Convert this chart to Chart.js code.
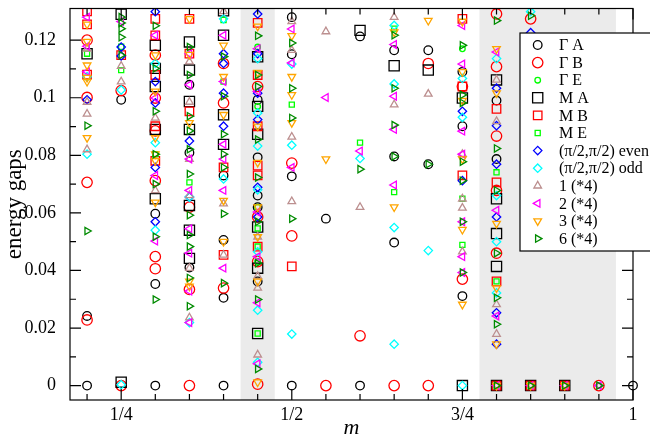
<!DOCTYPE html>
<html>
<head>
<meta charset="utf-8">
<script src="https://cdn.jsdelivr.net/npm/chart.js@4/dist/chart.umd.min.js"></script>
<style>
  html, body { margin: 0; padding: 0; background: #fff; }
</style>
</head>
<body>
<canvas id="graph" width="650" height="440"></canvas>
<script>
// columns of the plot (m)
const mValues = [0.2, 0.25, 0.3, 0.35, 0.4, 0.45, 0.5, 0.55, 0.6, 0.65, 0.7, 0.75, 0.8, 0.85, 0.9, 0.95, 1.0];

// energy gaps, one list per column of mValues
const gammaA = [[0, 0.0242], [0.0993], [0.0597, 0.0353, 0], [0.1045, 0.0809, 0.041], [0.073, 0.0506, 0.0305, 0],
  [0.0993, 0.0793, 0.066, 0.062, 0.0362], [0.128, 0.1151, 0.0727, 0], [0.058], [0.1213, 0], [0.1165, 0.0796, 0.0497],
  [0.1165, 0.0769], [0.109, 0.0901, 0.0311], [0.099, 0.0787], [], [], [], [0]];
const gammaB = [[0.12, 0.1001, 0.0706, 0.0228], [0.1025, 0], [0.1148, 0.0999, 0.0885, 0.0712, 0.0448, 0.0406], [0.062, 0.0334, 0],
  [0.1119, 0.0982, 0.0339], [0.1039, 0.0586, 0.0431, 0.0005], [0.0773, 0.052], [0], [0.0173], [0], [0.1119, 0],
  [0.1039, 0.037], [0.1291, 0.1108, 0.0867, 0.0678, 0.046], [0.1274], [], [0], []];
const gammaE = [[], [], [], [], [], [0.1176, 0.097, 0.062, 0.0431], [], [], [], [], [], [0.117], [], [], [], [0], []];
const mA = [[0.1153], [0.129, 0.0012], [0.1182, 0.1102, 0.1039, 0.089, 0.0649], [0.1194, 0.1096, 0.0987, 0.089, 0.0626, 0.054, 0.0442],
  [0.1302, 0.1217, 0.0941, 0.0838], [0.1142, 0.097, 0.0873, 0.0551, 0.0408, 0.0181], [], [], [0.1234], [0.1111], [0.1096],
  [0.0999, 0], [0.1062, 0.0649, 0.0528, 0.0414, 0], [0], [0], [], []];
const mB = [[0.130, 0.1255, 0.108], [0.1148], [0.1274, 0.1217, 0.1079, 0.0901, 0.0781], [0.1274, 0.1153, 0.0953], [0.0758, 0.0454],
  [0.126, 0.1079, 0.0901, 0.0764, 0.073, 0.0483], [0.0414], [], [], [], [], [0.1274, 0.1039, 0.073], [0.0961, 0.0706, 0.0362, 0],
  [0], [0], [], []];
const mE = [[0.1153], [0.1177, 0.1096], [0.0804], [0.0706], [0.127, 0.1056], [0.0546, 0.0483, 0.0181], [0.0976], [], [0.0844],
  [0.124, 0.0672], [], [0.0649, 0.0489], [0.0741, 0.0362, 0], [0], [0], [], []];
const evenPi2 = [[0.0993], [0.1176, 0.1145], [0.1299, 0.1056, 0.0982, 0.0758, 0.0569], [0.085, 0.0655], [0.1153, 0.1119, 0.1016, 0.0901],
  [0.1291, 0.1153, 0.1016, 0.0924, 0.0689, 0.0586], [], [], [], [], [], [0.0953, 0.0712],
  [0.1033, 0.0903, 0.0769, 0.0586, 0.0253, 0.0144], [0.1226], [], [], []];
const oddPi2 = [[0.1073, 0.0804], [0.1027, 0.0003], [0.1119, 0.0844, 0.054], [0.0655, 0.0219], [0.1274, 0.0718],
  [0.1136, 0.0947, 0.0832, 0.068, 0.0465, 0.0262, 0.0081], [0.1117, 0.0835, 0.0179], [], [0.0789], [0.1251, 0.1048, 0.0549, 0.0144],
  [0.0469], [0.1067, 0.0932, 0], [0.1136, 0.066, 0.05, 0.0322], [0.1299], [], [], []];
const k1 = [[0.117, 0.0985, 0.0944, 0.082], [0.111, 0.1056], [0.093, 0.0678], [0.1125, 0.0985, 0.0787, 0.0661, 0.0408, 0.0236],
  [0.13, 0.0632, 0.0454], [0.0517, 0.038, 0.0339, 0.0107], [0.1265, 0.1165, 0.0864, 0.064], [0.123], [0.062], [0.128, 0.0976],
  [0.1013], [0.0804, 0.0649, 0.0617, 0.0465], [0.1062, 0.0918, 0.0282, 0.0179], [], [], [], []];
const k2 = [[0.128, 0.1179, 0.109], [0.1265], [0.1217, 0.0999, 0.073, 0.0502], [0.1153, 0.1045, 0.0787, 0.0678, 0.0545, 0.046, 0.0328, 0.0219],
  [0.1217, 0.1056, 0.0838, 0.0787, 0.0678, 0.0408], [0.117, 0.1022, 0.0603, 0.0448, 0.0288, 0.0076], [0.1239, 0.1121, 0.0758],
  [0.1001], [0.0815], [0.1185, 0.1005, 0.089, 0.0697], [], [0.1251, 0.1117, 0.0884, 0.0804, 0.0569, 0.0448, 0.0393],
  [0.1159, 0.0609, 0.0242, 0], [0], [0], [0], []];
const k3 = [[0.1255, 0.1195, 0.1113, 0.107, 0.1056, 0.0861], [], [0.1148, 0.1022, 0.0861, 0.0804, 0.0781, 0.0637],
  [0.1274, 0.115, 0.0913, 0.0362, 0.0345], [0.1182, 0.1073, 0.0941, 0.0643, 0.05],
  [0.1248, 0.1087, 0.0901, 0.0775, 0.062, 0.0517, 0.0362, 0.0012], [0.1215, 0.1073, 0.101, 0.0913], [0.0787], [],
  [0.1228, 0.062], [0.1268], [0.1265, 0.109, 0.099, 0.0787, 0.0542, 0.0282], [0.117, 0.1016, 0.0563, 0.0339, 0.0144, 0],
  [0], [0], [], []];
const k6 = [[0.0903, 0.0537], [0.128, 0.126, 0.124, 0.121, 0.1148], [0.125, 0.1102, 0.0953, 0.0804, 0.07, 0.0517, 0.0299],
  [0.1176, 0.1079, 0.0936, 0.0885, 0.0821, 0.0735, 0.0592, 0.0523, 0.0483, 0.0374, 0.0276],
  [0.1143, 0.1005, 0.0873, 0.0804, 0.0758, 0.0597, 0.0356], [0.1215, 0.1079, 0.1039, 0.0855, 0.0723, 0.0569, 0.0425, 0.0299, 0.0058],
  [0.119, 0.1033, 0.093, 0.058], [], [0.0752], [0.1217, 0.1033, 0.0905, 0.0796], [0.0769],
  [0.1182, 0.101, 0.0982, 0.0778, 0.0712, 0.0569, 0.0393], [0.1268, 0.0824, 0.0678, 0.046, 0.0305, 0.0213, 0], [0.1285, 0],
  [0], [0], []];

const seriesLabels = ['Γ A', 'Γ B', 'Γ E', 'M A', 'M B', 'M E', '(π/2,π/2) even', '(π/2,π/2) odd', '1 (*4)', '2 (*4)', '3 (*4)', '6 (*4)'];
const seriesData = [gammaA, gammaB, gammaE, mA, mB, mE, evenPi2, oddPi2, k1, k2, k3, k6];

// axis ticks
const xTickValues = [0.25, 0.5, 0.75, 1.0];
const xTickLabels = ['1/4', '1/2', '3/4', '1'];
const yTickValues = [0, 0.02, 0.04, 0.06, 0.08, 0.1, 0.12];
const yTickLabels = ['0', '0.02', '0.04', '0.06', '0.08', '0.1', '0.12'];
const yMinorTicks = [0.01, 0.03, 0.05, 0.07, 0.09, 0.11];
// shaded m ranges
const bands = [[0.425, 0.475], [0.775, 0.975]];

const markers = [
  { style: 'circle', r: 4.3, rot: 0, color: '#000000' },
  { style: 'circle', r: 5.2, rot: 0, color: '#ff0000' },
  { style: 'circle', r: 2.8, rot: 0, color: '#00ff00' },
  { style: 'rect', r: 7.2, rot: 0, color: '#000000' },
  { style: 'rect', r: 6.0, rot: 0, color: '#ff0000' },
  { style: 'rect', r: 3.6, rot: 0, color: '#00ff00' },
  { style: 'rectRot', r: 4.2, rot: 0, color: '#0000ff' },
  { style: 'rectRot', r: 4.2, rot: 0, color: '#00ffff' },
  { style: 'triangle', r: 4.4, rot: 0, color: '#bc8f8f' },
  { style: 'triangle', r: 4.4, rot: 270, color: '#ff00ff' },
  { style: 'triangle', r: 4.4, rot: 180, color: '#ffa500' },
  { style: 'triangle', r: 4.2, rot: 90, color: '#008b00' }
];

const SERIF = '"Liberation Serif", "DejaVu Serif", serif';

function buildDatasets() {
  return seriesData.map((cols, i) => {
    const pts = [];
    cols.forEach((col, k) => col.forEach(v => pts.push({ x: mValues[k], y: v })));
    const mk = markers[i];
    return {
      label: seriesLabels[i],
      data: pts,
      order: seriesData.length - i,   // later sets on top, like grace
      pointStyle: mk.style,
      pointRadius: mk.r,
      pointHoverRadius: mk.r,
      pointRotation: mk.rot,
      borderColor: mk.color,
      backgroundColor: 'rgba(0,0,0,0)',
      borderWidth: 1.3,
      clip: { left: 10, top: 0, right: 10, bottom: 0 }
    };
  });
}

const framePlugin = {
  id: 'frame',
  beforeDatasetsDraw(chart) {
    const ctx = chart.ctx, a = chart.chartArea, xs = chart.scales.x;
    ctx.save();
    ctx.fillStyle = '#ebebeb';
    bands.forEach(b => {
      const x0 = xs.getPixelForValue(b[0]), x1 = xs.getPixelForValue(b[1]);
      ctx.fillRect(x0, a.top, x1 - x0, a.bottom - a.top);
    });
    ctx.restore();
  },
  afterDatasetsDraw(chart) {
    const ctx = chart.ctx, a = chart.chartArea, xs = chart.scales.x, ys = chart.scales.y;
    ctx.save();
    ctx.strokeStyle = '#000';
    ctx.lineWidth = 1.2;
    ctx.strokeRect(a.left, a.top, a.right - a.left, a.bottom - a.top);
    ctx.beginPath();
    const xt = (v, len) => {
      const px = xs.getPixelForValue(v);
      ctx.moveTo(px, a.bottom); ctx.lineTo(px, a.bottom - len);
      ctx.moveTo(px, a.top); ctx.lineTo(px, a.top + len);
    };
    const yt = (v, len) => {
      const py = ys.getPixelForValue(v);
      ctx.moveTo(a.left, py); ctx.lineTo(a.left + len, py);
      ctx.moveTo(a.right, py); ctx.lineTo(a.right - len, py);
    };
    mValues.forEach(v => xt(v, xTickValues.includes(v) ? 11 : 6));
    yTickValues.forEach(v => yt(v, 11));
    yMinorTicks.forEach(v => yt(v, 6));
    ctx.stroke();

    // axis titles
    ctx.fillStyle = '#000';
    ctx.textAlign = 'center';
    ctx.textBaseline = 'alphabetic';
    ctx.font = 'italic 22px ' + SERIF;
    ctx.fillText('m', (a.left + a.right) / 2, 434);
    ctx.translate(21, (a.top + a.bottom) / 2);
    ctx.rotate(-Math.PI / 2);
    ctx.font = '23px ' + SERIF;
    ctx.fillText('energy gaps', 0, 0);
    ctx.restore();
  },
  afterDraw(chart) {
    // legend box sits over the data, like the original
    const ctx = chart.ctx;
    ctx.save();
    ctx.fillStyle = '#fff';
    ctx.fillRect(520, 33, 140, 218);
    ctx.strokeStyle = '#000';
    ctx.lineWidth = 1.2;
    ctx.strokeRect(520, 33, 140, 218);
    chart.data.datasets.forEach((ds, i) => {
      const y = 45 + i * 17.6;
      ctx.fillStyle = 'rgba(0,0,0,0)';
      ctx.strokeStyle = ds.borderColor;
      ctx.lineWidth = ds.borderWidth;
      Chart.helpers.drawPoint(ctx, { pointStyle: ds.pointStyle, radius: ds.pointRadius, rotation: ds.pointRotation, borderWidth: ds.borderWidth }, 537.7, y);
      ctx.fillStyle = '#000';
      ctx.font = '16px ' + SERIF;
      ctx.textAlign = 'left';
      ctx.textBaseline = 'middle';
      ctx.fillText(ds.label, 559, y + 1);
    });
    ctx.restore();
  }
};

new Chart(document.getElementById('graph'), {
  type: 'scatter',
  data: { datasets: buildDatasets() },
  options: {
    responsive: false,
    devicePixelRatio: 1,
    animation: false,
    events: [],
    layout: { padding: { left: 0, right: 17, top: 5, bottom: 0 } },
    plugins: { legend: { display: false }, tooltip: { enabled: false } },
    scales: {
      x: {
        type: 'linear', min: 0.175, max: 1.0,
        grid: { display: false }, border: { display: false },
        afterFit: s => { s.height = 40; s.paddingLeft = 0; s.paddingRight = 0; },
        afterBuildTicks: s => { s.ticks = xTickValues.map(v => ({ value: v })); },
        ticks: {
          autoSkip: false, maxRotation: 0, padding: -4, color: '#000',
          font: { family: SERIF, size: 18 },
          callback: (v) => xTickLabels[xTickValues.indexOf(v)]
        }
      },
      y: {
        type: 'linear', min: -0.005, max: 0.131,
        grid: { display: false }, border: { display: false },
        afterFit: s => { s.width = 70; s.paddingTop = 0; s.paddingBottom = 0; },
        afterBuildTicks: s => { s.ticks = yTickValues.map(v => ({ value: v })); },
        ticks: {
          autoSkip: false, padding: 6, color: '#000',
          font: { family: SERIF, size: 18 },
          callback: (v) => yTickLabels[yTickValues.indexOf(v)]
        }
      }
    }
  },
  plugins: [framePlugin]
});
</script>
</body>
</html>
